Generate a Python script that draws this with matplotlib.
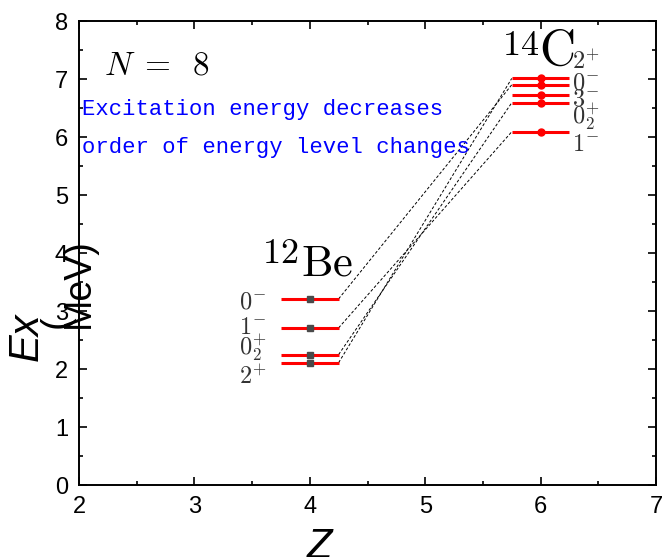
import matplotlib
matplotlib.use("Agg")
import matplotlib.pyplot as plt
from matplotlib.ticker import MultipleLocator

plt.rcParams["mathtext.fontset"] = "cm"
plt.rcParams["font.family"] = ["Liberation Sans", "DejaVu Sans"]

# Level schemes: (spin-parity label, excitation energy in MeV)
be_labels = [r"$2^{+}$", r"$0_2^{+}$", r"$1^{-}$", r"$0^{-}$"]
be_energy = [2.11, 2.25, 2.71, 3.21]
c_labels = [r"$1^{-}$", r"$0_2^{+}$", r"$3^{-}$", r"$0^{-}$", r"$2^{+}$"]
c_energy = [6.09, 6.59, 6.73, 6.90, 7.01]

# Z of each nucleus
z_be = 4
z_c = 6

# Pairs of states linked across the two nuclei (index in Be list, index in C list)
links = [(0, 4), (1, 1), (2, 0), (3, 3)]

# Label y positions (offset from the levels so the labels do not collide)
be_label_y = [1.84, 2.36, 2.71, 3.14]
c_label_y = [5.86, 6.34, 6.64, 6.93, 7.28]

half = 0.25

fig = plt.figure(figsize=(6.64, 5.57), dpi=100)
ax = fig.add_axes([79 / 664, 72 / 557, 577 / 664, 464 / 557])

# Be levels
for e in be_energy:
    ax.plot([z_be - half, z_be + half], [e, e], color="red", lw=2.2,
            solid_capstyle="butt", zorder=3)
ax.plot([z_be] * len(be_energy), be_energy, "s", color="#4a4a4a", ms=4.5,
        zorder=4)

# C levels
for e in c_energy:
    ax.plot([z_c - half, z_c + half], [e, e], color="red", lw=2.2,
            solid_capstyle="butt", zorder=3)
ax.plot([z_c] * len(c_energy), c_energy, "o", color="red", ms=5, zorder=4)

# Dashed connectors
for i, j in links:
    ax.plot([z_be + half, z_c - half], [be_energy[i], c_energy[j]],
            color="black", lw=0.7, ls=(0, (3, 2)), zorder=2)

# Spin-parity labels
for lab, y in zip(be_labels, be_label_y):
    ax.text(3.62, y, lab, ha="right", va="center", fontsize=17.5,
            color="#333333")
for lab, y in zip(c_labels, c_label_y):
    ax.text(6.27, y, lab, ha="left", va="center", fontsize=17.5,
            color="#333333")

# Nucleus names
ax.text(3.59, 3.83, r"$\mathrm{12}$", fontsize=26, ha="left", va="baseline")
ax.text(3.92, 3.62, r"$\mathrm{Be}$", fontsize=32, ha="left", va="baseline")
ax.text(5.99, 7.41, r"$\mathrm{14}$", fontsize=26, ha="right", va="baseline")
ax.text(5.99, 7.24, r"$\mathrm{C}$", fontsize=36, ha="left", va="baseline")

ax.text(2.22, 7.07, r"$N\;=\;\;8$", fontsize=24, ha="left", va="baseline")

ax.text(2.03, 6.38, "Excitation energy decreases", fontsize=16,
        family="Liberation Mono", color="#0000ff", ha="left", va="baseline")
ax.text(2.03, 5.72, "order of energy level changes", fontsize=16,
        family="Liberation Mono", color="#0000ff", ha="left", va="baseline")

ax.set_xlim(2, 7)
ax.set_ylim(0, 8)
ax.xaxis.set_major_locator(MultipleLocator(1))
ax.xaxis.set_minor_locator(MultipleLocator(0.5))
ax.yaxis.set_major_locator(MultipleLocator(1))
ax.yaxis.set_minor_locator(MultipleLocator(0.5))
ax.tick_params(which="both", direction="in", top=True, right=True,
               width=1.2, labelsize=17, pad=8)
ax.tick_params(which="major", length=6)
ax.tick_params(which="minor", length=3)
for s in ax.spines.values():
    s.set_linewidth(1.4)

# Axis titles
fig.text(27 / 664, 1 - 337 / 557, "Ex", rotation=90, fontsize=30,
         style="italic", ha="center", va="center")
fig.text(57 / 664, 1 - 322 / 557, "(", rotation=90, fontsize=27,
         ha="center", va="center")
fig.text(79 / 664, 1 - 283 / 557, "MeV)", rotation=90, fontsize=27,
         ha="center", va="center")
fig.text(320 / 664, 1 - 527 / 557, "Z", fontsize=30, style="italic",
         ha="center", va="top")

fig.savefig("out.png", dpi=100)
